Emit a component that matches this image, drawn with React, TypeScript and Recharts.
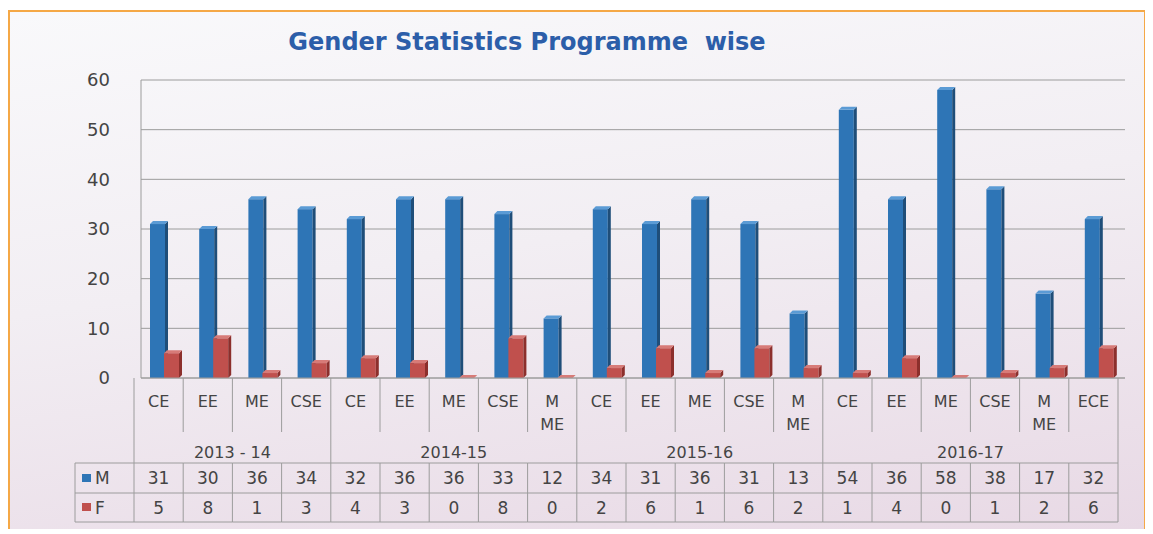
import { BarChart, Bar, XAxis, YAxis, CartesianGrid } from "recharts";

const categories = ["CE", "EE", "ME", "CSE", "CE", "EE", "ME", "CSE", "M ME", "CE", "EE", "ME", "CSE", "M ME", "CE", "EE", "ME", "CSE", "M ME", "ECE"];
const years = ["2013 - 14", "2014-15", "2015-16", "2016-17"];
const yearSizes = [4, 5, 5, 6];
const maleCounts = [31, 30, 36, 34, 32, 36, 36, 33, 12, 34, 31, 36, 31, 13, 54, 36, 58, 38, 17, 32];
const femaleCounts = [5, 8, 1, 3, 4, 3, 0, 8, 0, 2, 6, 1, 6, 2, 1, 4, 0, 1, 2, 6];
const yTicks = [0, 10, 20, 30, 40, 50, 60];

const data = categories.map((cat, i) => ({ i, cat, M: maleCounts[i], F: femaleCounts[i] }));

const W = 1134;
const H = 517;
const PLOT_LEFT = 131;
const PLOT_RIGHT = 1115;
const BAND = (PLOT_RIGHT - PLOT_LEFT) / categories.length;
const SHIFT = 7; // table sits left of the 3D bars
const LINE = "#9c9c9c";
const TEXT = "#444444";
const FONT = "'DejaVu Sans', sans-serif";

// index of first category in each year group
const groupStarts = yearSizes.map((_, g) => yearSizes.slice(0, g).reduce((a, b) => a + b, 0));
const groupEnds = groupStarts.map((s, g) => s + yearSizes[g] - 1);

const Bar3D = (props: any) => {
  const { x, y, width, height, fill, side, top } = props;
  const d = 3;
  const h = Math.max(height, 0);
  return (
    <g>
      <rect x={x} y={y} width={width - d} height={h} fill={fill} />
      <polygon points={`${x + width - d},${y} ${x + width},${y - d} ${x + width},${y + h - d} ${x + width - d},${y + h}`} fill={side} />
      <polygon points={`${x},${y} ${x + d},${y - d} ${x + width},${y - d} ${x + width - d},${y}`} fill={top} />
    </g>
  );
};

const TableTick = (props: any) => {
  const { x, y, index } = props;
  const cx = x - SHIFT;
  const left = cx - BAND / 2;
  const right = cx + BAND / 2;
  const lines = categories[index].split(" ");
  const gi = groupStarts.findIndex((s, g) => index >= s && index <= groupEnds[g]);
  const isGroupEnd = groupEnds.includes(index);
  const tTop = y + 85;
  const tMid = y + 115;
  const tBot = y + 144;
  const txt = { fill: TEXT, fontSize: 17, fontFamily: FONT, textAnchor: "middle" as const, dominantBaseline: "central" as const };
  return (
    <g>
      {lines.map((l, k) => (
        <text key={k} x={cx} y={y + 23 + k * 23} {...txt} fontSize={16}>{l}</text>
      ))}
      <line x1={right} x2={right} y1={y} y2={isGroupEnd ? tBot : y + 54} stroke={LINE} />
      {!isGroupEnd && <line x1={right} x2={right} y1={tTop} y2={tBot} stroke={LINE} />}
      {index === groupStarts[gi] && (
        <text x={left + (yearSizes[gi] * BAND) / 2} y={y + 74} {...txt} fontSize={16}>{years[gi]}</text>
      )}
      <line x1={left} x2={right} y1={tTop} y2={tTop} stroke={LINE} />
      <line x1={left} x2={right} y1={tMid} y2={tMid} stroke={LINE} />
      <line x1={left} x2={right} y1={tBot} y2={tBot} stroke={LINE} />
      <text x={cx} y={y + 100} {...txt}>{maleCounts[index]}</text>
      <text x={cx} y={y + 129.5} {...txt}>{femaleCounts[index]}</text>
      {index === 0 && (
        <g>
          <line x1={left} x2={left} y1={y} y2={tBot} stroke={LINE} />
          <line x1={65} x2={65} y1={tTop} y2={tBot} stroke={LINE} />
          <line x1={65} x2={left} y1={tTop} y2={tTop} stroke={LINE} />
          <line x1={65} x2={left} y1={tMid} y2={tMid} stroke={LINE} />
          <line x1={65} x2={left} y1={tBot} y2={tBot} stroke={LINE} />
          <rect x={72} y={y + 96} width={9} height={8} fill="#2e75b6" />
          <text x={85} y={y + 100} fill={TEXT} fontSize={17} fontFamily={FONT} dominantBaseline="central">M</text>
          <rect x={72} y={y + 125} width={9} height={8} fill="#c0504d" />
          <text x={85} y={y + 129.5} fill={TEXT} fontSize={17} fontFamily={FONT} dominantBaseline="central">F</text>
        </g>
      )}
    </g>
  );
};

export default function App() {
  return (
    <div
      style={{
        position: "relative",
        top: 2,
        width: 1138,
        height: 521,
        boxSizing: "border-box",
        border: "2px solid #f5a846",
        background: "linear-gradient(172deg, #f9f9fb 0%, #f2eef3 45%, #e8d9e5 100%)",
        fontFamily: FONT,
      }}
    >
      <div
        style={{
          position: "absolute",
          left: 517 - 300,
          top: 16,
          width: 600,
          textAlign: "center",
          whiteSpace: "pre",
          color: "#2c5ea9",
          fontSize: 24,
          fontWeight: 700,
          lineHeight: "28px",
        }}
      >
        Gender Statistics Programme  wise
      </div>
      <BarChart
        width={W}
        height={H}
        data={data}
        margin={{ top: 68, right: W - PLOT_RIGHT, bottom: 0, left: 0 }}
        barSize={18}
        barGap={-4}
      >
        <CartesianGrid vertical={false} stroke={LINE} />
        <YAxis
          domain={[0, 60]}
          ticks={yTicks}
          width={PLOT_LEFT}
          tickLine={false}
          tickSize={0}
          tickMargin={31}
          axisLine={{ stroke: LINE }}
          tick={{ fill: TEXT, fontSize: 18, fontFamily: FONT }}
        />
        <XAxis
          dataKey="i"
          interval={0}
          height={151}
          tickLine={false}
          tickSize={0}
          tickMargin={0}
          axisLine={{ stroke: LINE }}
          tick={<TableTick />}
        />
        <Bar dataKey="M" fill="#2e75b6" isAnimationActive={false} shape={(p: any) => <Bar3D {...p} side="#1f4e79" top="#5b9bd5" />} />
        <Bar dataKey="F" fill="#c0504d" isAnimationActive={false} shape={(p: any) => <Bar3D {...p} side="#8c2f2c" top="#d77b78" />} />
      </BarChart>
    </div>
  );
}
